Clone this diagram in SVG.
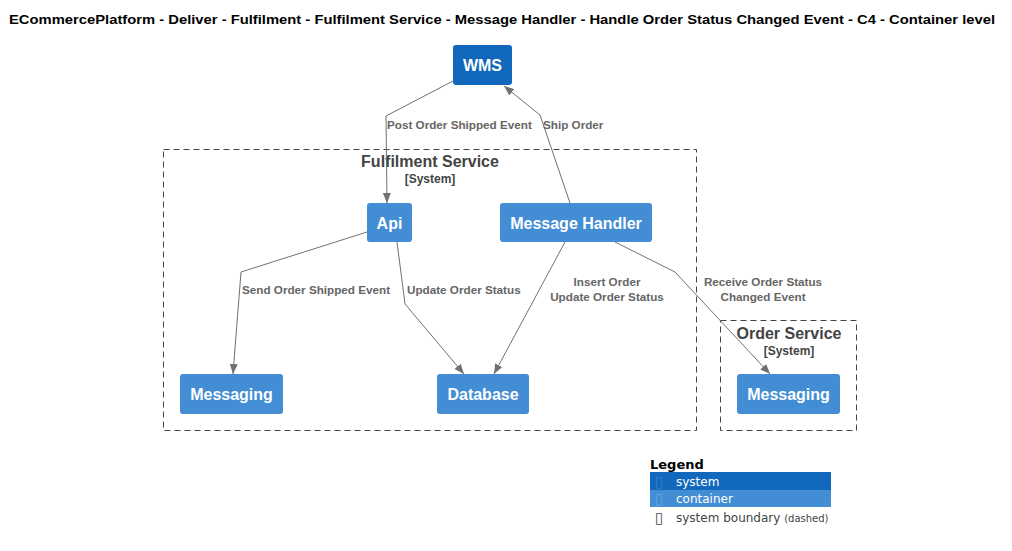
<svg xmlns="http://www.w3.org/2000/svg" width="1012" height="551" viewBox="0 0 1012 551">
<defs>
<marker id="arr" viewBox="0 0 10 8" refX="10" refY="4" markerWidth="10" markerHeight="8" markerUnits="userSpaceOnUse" orient="auto">
<path d="M0,0 L10,4 L0,8 z" fill="#707070"/>
</marker>
</defs>
<style>
.title{font-family:"Liberation Sans",Arial,sans-serif;font-weight:bold;font-size:13px;fill:#000}
.sys{fill:#1168bd}
.cont{fill:#438dd5}
.ntext{font-family:"Liberation Sans",Arial,sans-serif;font-weight:bold;font-size:16px;fill:#fff;text-anchor:middle}
.bnd{fill:none;stroke:#444;stroke-width:1;stroke-dasharray:6,4}
.bname{font-family:"Liberation Sans",Arial,sans-serif;font-weight:bold;font-size:16px;fill:#444;text-anchor:middle}
.btype{font-family:"Liberation Sans",Arial,sans-serif;font-weight:bold;font-size:12px;fill:#444;text-anchor:middle}
.edge{fill:none;stroke:#707070;stroke-width:1;marker-end:url(#arr)}
.elabel{font-family:"Liberation Sans",Arial,sans-serif;font-weight:bold;font-size:11.7px;fill:#666}
.lg{font-family:"DejaVu Sans",sans-serif;font-size:12px}
.tofu{font-family:"DejaVu Sans",sans-serif;font-size:15px}
</style>
<rect width="1012" height="551" fill="#fff"/>
<text class="title" x="9" y="24" textLength="986" lengthAdjust="spacingAndGlyphs">ECommercePlatform - Deliver - Fulfilment - Fulfilment Service - Message Handler - Handle Order Status Changed Event - C4 - Container level</text>

<g id="fulfilment-service-boundary">
<rect class="bnd" x="163.5" y="149.5" width="533" height="281"/>
<text class="bname" x="430" y="167">Fulfilment Service</text>
<text class="btype" x="430" y="183">[System]</text>
</g>
<g id="order-service-boundary">
<rect class="bnd" x="720.5" y="320.5" width="136" height="110"/>
<text class="bname" x="789" y="339">Order Service</text>
<text class="btype" x="789" y="355">[System]</text>
</g>

<g id="connectors">
<path class="edge" d="M453,81 L386,116 L387,203"/>
<text class="elabel" x="387" y="129">Post Order Shipped Event</text>
<path class="edge" d="M570,203 L540,115 L504,86"/>
<text class="elabel" x="543" y="129">Ship Order</text>
<path class="edge" d="M367,232 L241,272 L233,374"/>
<text class="elabel" x="242" y="294">Send Order Shipped Event</text>
<path class="edge" d="M397,242 L405,304 L464,374"/>
<text class="elabel" x="407" y="294">Update Order Status</text>
<path class="edge" d="M565,242 L494,374"/>
<text class="elabel" x="607" y="286" text-anchor="middle">Insert Order</text>
<text class="elabel" x="607" y="301" text-anchor="middle">Update Order Status</text>
<path class="edge" d="M615,242 L675,272 L770,374"/>
<text class="elabel" x="763" y="286" text-anchor="middle">Receive Order Status</text>
<text class="elabel" x="763" y="301" text-anchor="middle">Changed Event</text>
</g>

<g id="wms">
<rect class="sys" x="453" y="45" width="59" height="40" rx="3"/>
<text class="ntext" x="482.5" y="71">WMS</text>
</g>
<g id="api">
<rect class="cont" x="367" y="203" width="45" height="39" rx="3"/>
<text class="ntext" x="389.5" y="229">Api</text>
</g>
<g id="message-handler">
<rect class="cont" x="500" y="203" width="152" height="39" rx="3"/>
<text class="ntext" x="576" y="229">Message Handler</text>
</g>
<g id="messaging-fulfilment">
<rect class="cont" x="180" y="374" width="103" height="40" rx="3"/>
<text class="ntext" x="231.5" y="400">Messaging</text>
</g>
<g id="database">
<rect class="cont" x="437" y="374" width="92" height="40" rx="3"/>
<text class="ntext" x="483" y="400">Database</text>
</g>
<g id="messaging-order">
<rect class="cont" x="737" y="374" width="103" height="40" rx="3"/>
<text class="ntext" x="788.5" y="400">Messaging</text>
</g>

<g id="legend">
<text x="650" y="469" style="font-family:'DejaVu Sans',sans-serif;font-weight:bold;font-size:13px;fill:#000">Legend</text>
<rect class="sys" x="650" y="472" width="181" height="18"/>
<rect class="cont" x="650" y="490" width="181" height="17"/>
<text class="tofu" x="655" y="487" fill="#3a7fc8">▯</text>
<text class="lg" x="676" y="486" fill="#fff">system</text>
<text class="tofu" x="655" y="504" fill="#6aa6e0">▯</text>
<text class="lg" x="676" y="503" fill="#fff">container</text>
<text class="tofu" x="655" y="523" fill="#444">▯</text>
<text class="lg" x="676" y="522" fill="#444">system boundary <tspan style="font-size:10px">(dashed)</tspan></text>
</g>
</svg>
